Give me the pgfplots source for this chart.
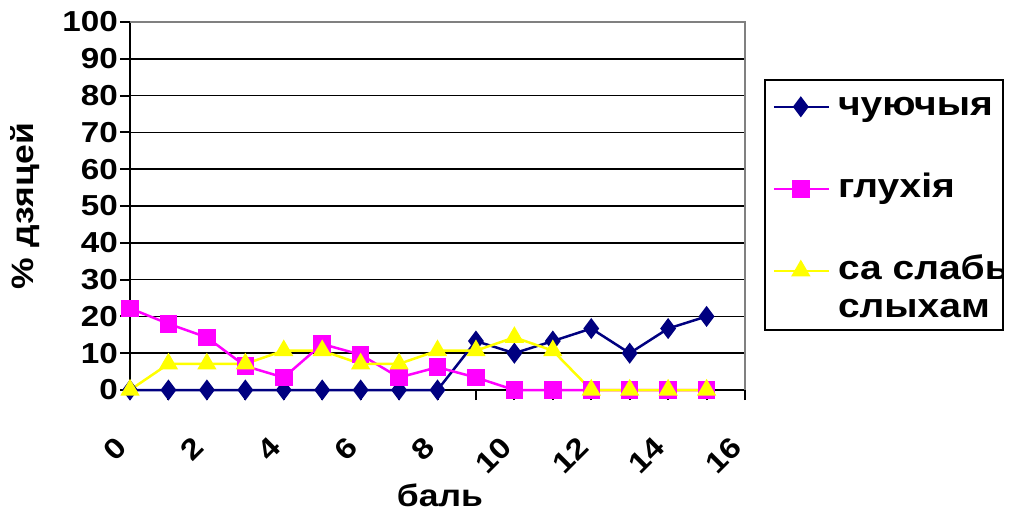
\documentclass[border=0pt]{standalone}
\usepackage{fontspec}
\setmainfont[FakeStretch=1.15]{Liberation Sans}
\usepackage{pgfplots}
\pgfplotsset{compat=1.18}
\definecolor{navyc}{RGB}{0,0,128}
\definecolor{magc}{RGB}{255,0,255}
\definecolor{yelc}{RGB}{255,255,0}
\newcommand\tickf{\fontsize{29}{33}\selectfont\bfseries}
\newcommand\labf{\fontsize{31}{35}\selectfont\bfseries}
\newcommand\legf{\fontsize{34}{38}\selectfont\bfseries}

\begin{document}
\begin{tikzpicture}
\begin{axis}[
  scale only axis, width=615bp, height=368bp,
  xmin=0, xmax=16, ymin=0, ymax=100,
  xtick={0,2,...,16}, minor xtick={1,3,...,15},
  ytick={0,10,...,100},
  ymajorgrids, grid style={black, line width=1.5bp},
  axis x line*=bottom, axis y line*=left,
  axis line style={black, line width=2bp, -},
  tick style={black, line width=2bp},
  major tick length=10bp, minor tick length=10bp,
  tick align=outside,
  clip=false,
  /pgf/number format/assume math mode=true,
  ticklabel style={font=\tickf},
  yticklabel style={anchor=east, inner sep=2bp},
  xticklabel style={yshift=-42bp, xshift=-8bp, rotate=45, anchor=east, inner sep=0bp},
  label style={font=\labf},
  xlabel={баль},
  xlabel style={at={(rel axis cs:0.504,-0.285)}, anchor=center},
  ylabel={\% дзяцей},
  ylabel style={at={(rel axis cs:-0.171,0.5)}, anchor=center},
  legend image code/.code={\draw[mark repeat=2,mark phase=2,#1] plot coordinates {(0bp,0bp) (27bp,0bp) (55bp,0bp)};},
  legend cell align=left,
  legend style={at={(1.0445,0.815)}, anchor=north west, draw=none, fill=none,
    font=\legf, inner sep=0bp, row sep=49bp, column sep=8bp,
    nodes={inner sep=0bp, text height=25bp, text depth=8bp}},
]
\addplot[navyc, line width=2.5bp, mark=diamond*, mark size=8.5bp] coordinates {
  (0,0) (1,0) (2,0) (3,0) (4,0) (5,0) (6,0) (7,0) (8,0)
  (9,13.3) (10,10) (11,13.3) (12,16.7) (13,10) (14,16.7) (15,20)
};
\addlegendentry{чуючыя}
\addplot[magc, line width=2.5bp, mark=square*, mark size=7.5bp] coordinates {
  (0,22.2) (1,18) (2,14.3) (3,6.5) (4,3.4) (5,12.5) (6,9.6) (7,3.4)
  (8,6.2) (9,3.4) (10,0) (11,0) (12,0) (13,0) (14,0) (15,0)
};
\addlegendentry{глухія}
\addplot[yelc, line width=2.5bp, mark=triangle*, mark size=8.7bp] coordinates {
  (0,0) (1,7.1) (2,7.1) (3,7.1) (4,10.7) (5,10.7) (6,7.1) (7,7.1)
  (8,10.7) (9,10.7) (10,14.3) (11,10.7) (12,0) (13,0) (14,0) (15,0)
};
\addlegendentry{\begin{tabular}[t]{@{}l@{}}са слабым\\слыхам\end{tabular}}
\draw[gray, line width=1.5bp] (rel axis cs:0,1) -- (rel axis cs:1,1) -- (rel axis cs:1,0);
\coordinate (LBL) at (rel axis cs:1.0325,0.163);
\coordinate (LTR) at (rel axis cs:1.4195,0.8424);
\coordinate (CBL) at (rel axis cs:1.4212,0.10);
\coordinate (CTR) at (rel axis cs:1.50,0.90);
\coordinate (BL) at (rel axis cs:-0.2114,-0.3397);
\coordinate (TR) at (rel axis cs:1.4504,1.0598);
\end{axis}
\fill[white] (CBL) rectangle (CTR);
\draw[black, line width=1.5bp] (LBL) rectangle (LTR);
\pgfresetboundingbox
\useasboundingbox (BL) rectangle (TR);
\end{tikzpicture}
\end{document}
